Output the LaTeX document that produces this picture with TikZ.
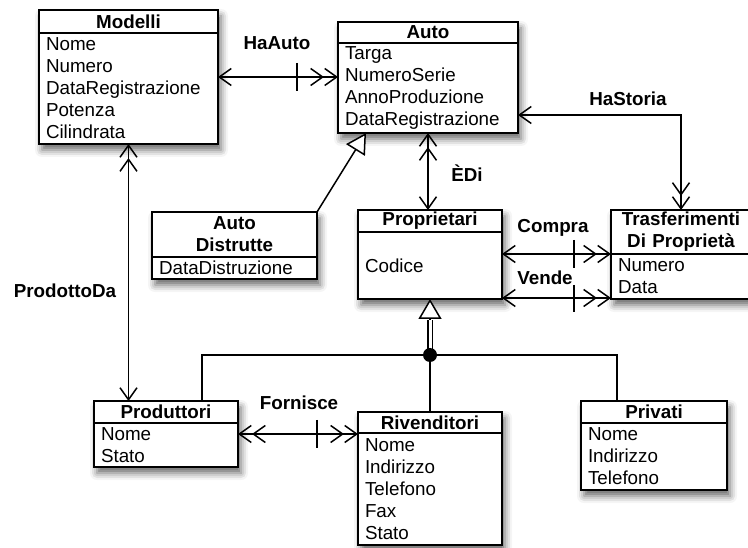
\documentclass[tikz,border=0pt]{standalone}
\usepackage{fontspec}
\setmainfont{Liberation Sans}
\usetikzlibrary{positioning,arrows.meta,shadows.blur,fit,backgrounds}

\tikzset{
  One/.tip={Straight Barb[length=12pt,width=17pt]},
  Many/.tip={Straight Barb[length=12pt,width=17pt,sep=0pt]Straight Barb[length=12pt,width=17pt]},
  head/.style={draw, line width=1.8pt, fill=white, font=\fontsize{18.8}{22}\selectfont\bfseries,
    align=center, anchor=north west, inner sep=0pt, outer sep=0pt},
  attrs/.style={draw, line width=1.8pt, fill=white, align=left, inner xsep=7pt, inner ysep=0pt, outer sep=0pt},
  rel/.style={font=\fontsize{18.8}{22}\selectfont\bfseries},
  conn/.style={line width=1.5pt},
  boxshadow/.style={fill=white, inner sep=0pt,
    blur shadow={shadow xshift=3pt, shadow yshift=-6pt, shadow blur radius=7pt, shadow opacity=60}}
}

\begin{document}
\begin{tikzpicture}[x=1pt,y=-1pt, every node/.style={font=\fontsize{18.8}{22}\selectfont}]
  \useasboundingbox (0,0) rectangle (748,548);

  % classes
  \node[head, text width=179pt, minimum height=23pt] (modelli) at (39,10) {Modelli};
  \node[attrs, text width=165pt, minimum height=111pt, below=0pt of modelli] (modelli-b) {Nome\\Numero\\DataRegistrazione\\Potenza\\Cilindrata};
  \node[head, text width=180pt, minimum height=21pt] (auto) at (338,22) {Auto};
  \node[attrs, text width=166pt, minimum height=90pt, below=0pt of auto] (auto-b) {Targa\\NumeroSerie\\AnnoProduzione\\DataRegistrazione};
  \node[head, text width=165pt, minimum height=45pt] (distrutte) at (152,212) {Auto\\Distrutte};
  \node[attrs, text width=151pt, minimum height=22pt, below=0pt of distrutte] (distrutte-b) {DataDistruzione};
  \node[head, text width=144pt, minimum height=22pt] (proprietari) at (358,210) {Proprietari};
  \node[attrs, text width=130pt, minimum height=67pt, below=0pt of proprietari] (proprietari-b) {Codice};
  \node[head, text width=140pt, minimum height=44pt] (trasf) at (611,210) {Trasferimenti\\Di Proprietà};
  \node[attrs, text width=126pt, minimum height=45pt, below=0pt of trasf] (trasf-b) {Numero\\Data};
  \node[head, text width=144pt, minimum height=22pt] (produttori) at (94,401) {Produttori};
  \node[attrs, text width=130pt, minimum height=44pt, below=0pt of produttori] (produttori-b) {Nome\\Stato};
  \node[head, text width=144pt, minimum height=21pt] (rivenditori) at (358,412) {Rivenditori};
  \node[attrs, text width=130pt, minimum height=112pt, below=0pt of rivenditori] (rivenditori-b) {Nome\\Indirizzo\\Telefono\\Fax\\Stato};
  \node[head, text width=146pt, minimum height=22pt] (privati) at (581,401) {Privati};
  \node[attrs, text width=132pt, minimum height=67pt, below=0pt of privati] (privati-b) {Nome\\Indirizzo\\Telefono};

  \begin{scope}[on background layer]
    \foreach \c in {modelli,auto,distrutte,proprietari,trasf,produttori,rivenditori,privati}
      \node[boxshadow, fit=(\c)(\c-b)] {};
  \end{scope}

  % relationships
  \draw[conn, {One}-{Many}] (modelli-b.east |- 0,77) -- coordinate[pos=0.66] (t1) (auto-b.west |- 0,77);
  \draw[conn] ([yshift=14pt]t1) -- ([yshift=-14pt]t1);
  \draw[conn, {One}-{Many}] (auto-b.east |- 0,115) -| (trasf.north);
  \draw[conn, {Many}-{One}] (auto-b.south) -- (proprietari.north -| auto-b.south);
  \draw[conn, {Many}-{One}] (modelli-b.south) -- (produttori.north -| modelli-b.south);
  \draw[conn, {One}-{Many}] (proprietari-b.east |- 0,254) -- coordinate[pos=0.66] (t2) (trasf-b.west |- 0,254);
  \draw[conn] ([yshift=14pt]t2) -- ([yshift=-14pt]t2);
  \draw[conn, {One}-{Many}] (proprietari-b.east |- 0,298) -- coordinate[pos=0.66] (t3) (trasf-b.west |- 0,298);
  \draw[conn] ([yshift=13pt]t3) -- ([yshift=-14pt]t3);
  \draw[conn, {Many}-{Many}] (produttori-b.east |- 0,434) -- coordinate[pos=0.66] (t4) (rivenditori-b.west |- 0,434);
  \draw[conn] ([yshift=14pt]t4) -- ([yshift=-14pt]t4);

  \node[rel] (haauto) at (277,43) {HaAuto};
  \node[rel] (hastoria) at (628,99) {HaStoria};
  \node[rel] (edi) at (467,173) {ÈDi};
  \node[rel] (prodottoda) at (65,291) {ProdottoDa};
  \node[rel] (compra) at (553,228) {Compra};
  \node[rel] (vende) at (545,278) {Vende};
  \node[rel] (fornisce) at (299,403) {Fornisce};

  % generalizations
  \draw[conn, -{Triangle[length=20pt,width=22pt,fill=white]}] (distrutte.north east) -- ([xshift=28pt]auto-b.south west);
  \coordinate (gen) at (430,355);
  \coordinate (genbase) at (430,320);
  \draw[line width=1.2pt, double=white, double distance=3pt] (gen) -- (genbase);
  \draw[conn, -{Triangle[length=20pt,width=23pt,fill=white]}] (genbase) -- (proprietari-b.south);
  \draw[conn] (produttori.north -| 202,0) |- (gen) -| (privati.north -| 617,0);
  \draw[conn] (gen) -- (rivenditori.north);
  \fill (gen) circle (7pt);
\end{tikzpicture}
\end{document}
